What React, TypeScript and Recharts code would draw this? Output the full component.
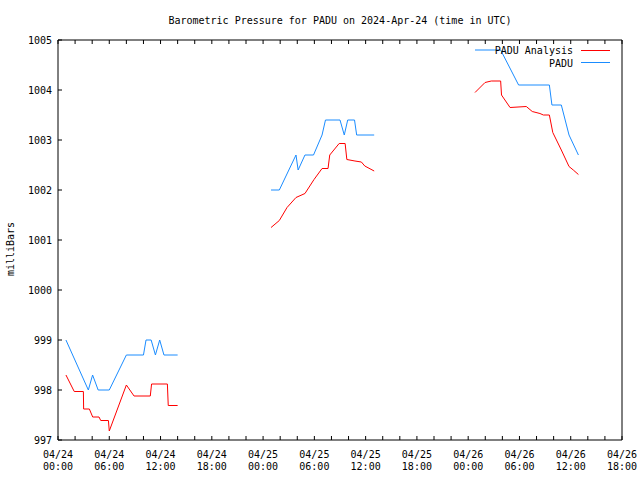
import { LineChart, Line, XAxis, YAxis } from "recharts";

const FONT = "'DejaVu Sans Mono', 'Liberation Mono', monospace";
const RED = "#ff0000";
const BLUE = "#1a8cff";
const TICK = 4;

// hours since 2024-04-24 00:00 UTC; null = no data (gap)
const analysisHours = [
  0.93, 1.9, 2.97, 3.0, 3.67, 4.06, 4.8, 5.0, 5.9, 6.0, 8.0, 8.9, 10.8, 10.95, 12.8, 12.9, 14.0,
  19,
  24.93, 25.9, 26.8, 27.85, 28.9, 29.96, 30.9, 31.6, 31.8, 32.9, 33.6, 33.8, 34.75, 35.5, 35.9, 37.0,
  43,
  48.8, 49.97, 50.7, 51.8, 51.9, 52.9, 54.8, 55.5, 56.4, 56.8, 57.5, 57.9, 58.9, 59.8, 60.3, 60.9,
];
const analysisValues = [
  998.3, 997.97, 997.97, 997.62, 997.62, 997.46, 997.46, 997.39, 997.39, 997.18, 998.1, 997.88, 997.88, 998.12, 998.12, 997.69, 997.69,
  null,
  1001.25, 1001.39, 1001.65, 1001.85, 1001.93, 1002.21, 1002.43, 1002.43, 1002.7, 1002.93, 1002.93, 1002.61, 1002.58, 1002.56, 1002.48, 1002.38,
  null,
  1003.95, 1004.15, 1004.18, 1004.18, 1003.9, 1003.65, 1003.67, 1003.57, 1003.53, 1003.5, 1003.5, 1003.15, 1002.8, 1002.47, 1002.4, 1002.31,
];

const padHours = [
  0.93, 3.55, 4.05, 4.7, 6.0, 8.0, 10.0, 10.3, 10.9, 11.4, 11.9, 12.4, 14.0,
  19,
  24.93, 25.9, 27.85, 28.1, 28.9, 29.9, 30.9, 31.3, 33.0, 33.5, 33.9, 34.7, 34.95, 37.0,
  43,
  48.8, 51.8, 53.9, 57.5, 57.8, 58.9, 59.8, 60.9,
];
const padValues = [
  999.0, 998.0, 998.3, 998.0, 998.0, 998.7, 998.7, 999.0, 999.0, 998.7, 999.0, 998.7, 998.7,
  null,
  1002.0, 1002.0, 1002.7, 1002.4, 1002.7, 1002.7, 1003.1, 1003.4, 1003.4, 1003.1, 1003.4, 1003.4, 1003.1, 1003.1,
  null,
  1004.8, 1004.8, 1004.1, 1004.1, 1003.7, 1003.7, 1003.1, 1002.7,
];

const hourTicks = [
  0, 2, 4, 6, 8, 10, 12, 14, 16, 18, 20, 22, 24, 26, 28, 30, 32, 34,
  36, 38, 40, 42, 44, 46, 48, 50, 52, 54, 56, 58, 60, 62, 64, 66,
];
const labelHours = [0, 6, 12, 18, 24, 30, 36, 42, 48, 54, 60, 66];
const dayLabels = ["04/24", "04/24", "04/24", "04/24", "04/25", "04/25", "04/25", "04/25", "04/26", "04/26", "04/26", "04/26"];
const timeLabels = ["00:00", "06:00", "12:00", "18:00", "00:00", "06:00", "12:00", "18:00", "00:00", "06:00", "12:00", "18:00"];
const pressureTicks = [997, 998, 999, 1000, 1001, 1002, 1003, 1004, 1005];

const analysisData = analysisHours.map((t, i) => ({ t, v: analysisValues[i] }));
const padData = padHours.map((t, i) => ({ t, v: padValues[i] }));

// ticks point inward, like the gnuplot original
function BottomTick(props: any) {
  const { x, y, payload } = props;
  const i = labelHours.indexOf(payload.value);
  return (
    <g>
      <line x1={x} x2={x} y1={y} y2={y - TICK} stroke="#000" />
      {i >= 0 && (
        <text x={x} y={y} textAnchor="middle" fontFamily={FONT} fontSize={10} fill="#000">
          <tspan x={x} dy={18}>{dayLabels[i]}</tspan>
          <tspan x={x} dy={12}>{timeLabels[i]}</tspan>
        </text>
      )}
    </g>
  );
}

function TopTick(props: any) {
  const { x, y } = props;
  return <line x1={x} x2={x} y1={y} y2={y + TICK} stroke="#000" />;
}

function LeftTick(props: any) {
  const { x, y, payload } = props;
  return (
    <g>
      <line x1={x} x2={x + TICK} y1={y} y2={y} stroke="#000" />
      <text x={x - 6} y={y} dy={3.5} textAnchor="end" fontFamily={FONT} fontSize={10} fill="#000">
        {payload.value}
      </text>
    </g>
  );
}

function RightTick(props: any) {
  const { x, y } = props;
  return <line x1={x} x2={x - TICK} y1={y} y2={y} stroke="#000" />;
}

export default function App() {
  return (
    <div style={{ position: "absolute", left: 0, top: 0, width: 640, height: 480, background: "#fff", fontFamily: FONT }}>
      <LineChart
        width={640}
        height={480}
        data={analysisData}
        margin={{ top: 39, right: 17, bottom: 0, left: 0 }}
      >
        <XAxis
          dataKey="t"
          type="number"
          domain={[0, 66]}
          ticks={hourTicks}
          interval={0}
          height={40}
          tickSize={0}
          tickMargin={0}
          tickLine={false}
          tick={<BottomTick />}
          axisLine={{ stroke: "#000" }}
        />
        <XAxis
          xAxisId="top"
          orientation="top"
          dataKey="t"
          type="number"
          domain={[0, 66]}
          ticks={hourTicks}
          interval={0}
          height={1}
          tickSize={0}
          tickMargin={0}
          tickLine={false}
          tick={<TopTick />}
          axisLine={{ stroke: "#000" }}
        />
        <YAxis
          type="number"
          domain={[997, 1005]}
          ticks={pressureTicks}
          interval={0}
          width={58}
          tickSize={0}
          tickMargin={0}
          tickLine={false}
          tick={<LeftTick />}
          axisLine={{ stroke: "#000" }}
        />
        <YAxis
          yAxisId="right"
          orientation="right"
          type="number"
          domain={[997, 1005]}
          ticks={pressureTicks}
          interval={0}
          width={1}
          tickSize={0}
          tickMargin={0}
          tickLine={false}
          tick={<RightTick />}
          axisLine={{ stroke: "#000" }}
        />
        <Line
          data={analysisData}
          dataKey="v"
          type="linear"
          stroke={RED}
          strokeWidth={1}
          dot={false}
          activeDot={false}
          connectNulls={false}
          isAnimationActive={false}
        />
        <Line
          data={padData}
          dataKey="v"
          type="linear"
          stroke={BLUE}
          strokeWidth={1}
          dot={false}
          activeDot={false}
          connectNulls={false}
          isAnimationActive={false}
        />
      </LineChart>

      <div style={{ position: "absolute", left: 0, width: 680, top: 15, textAlign: "center", fontSize: 10, lineHeight: "12px" }}>
        Barometric Pressure for PADU on 2024-Apr-24 (time in UTC)
      </div>

      <div
        style={{
          position: "absolute",
          left: 11,
          top: 249,
          transform: "translate(-50%, -50%) rotate(-90deg)",
          fontSize: 10,
          lineHeight: "12px",
          whiteSpace: "nowrap",
        }}
      >
        milliBars
      </div>

      <div style={{ position: "absolute", right: 67, top: 44, textAlign: "right", fontSize: 10, lineHeight: "13px" }}>
        <div>PADU Analysis</div>
        <div>PADU</div>
      </div>
      <svg style={{ position: "absolute", left: 580, top: 44 }} width={32} height={26}>
        <line x1={1} x2={30} y1={6.5} y2={6.5} stroke={RED} strokeWidth={1} />
        <line x1={1} x2={30} y1={18.5} y2={18.5} stroke={BLUE} strokeWidth={1} />
      </svg>
    </div>
  );
}
